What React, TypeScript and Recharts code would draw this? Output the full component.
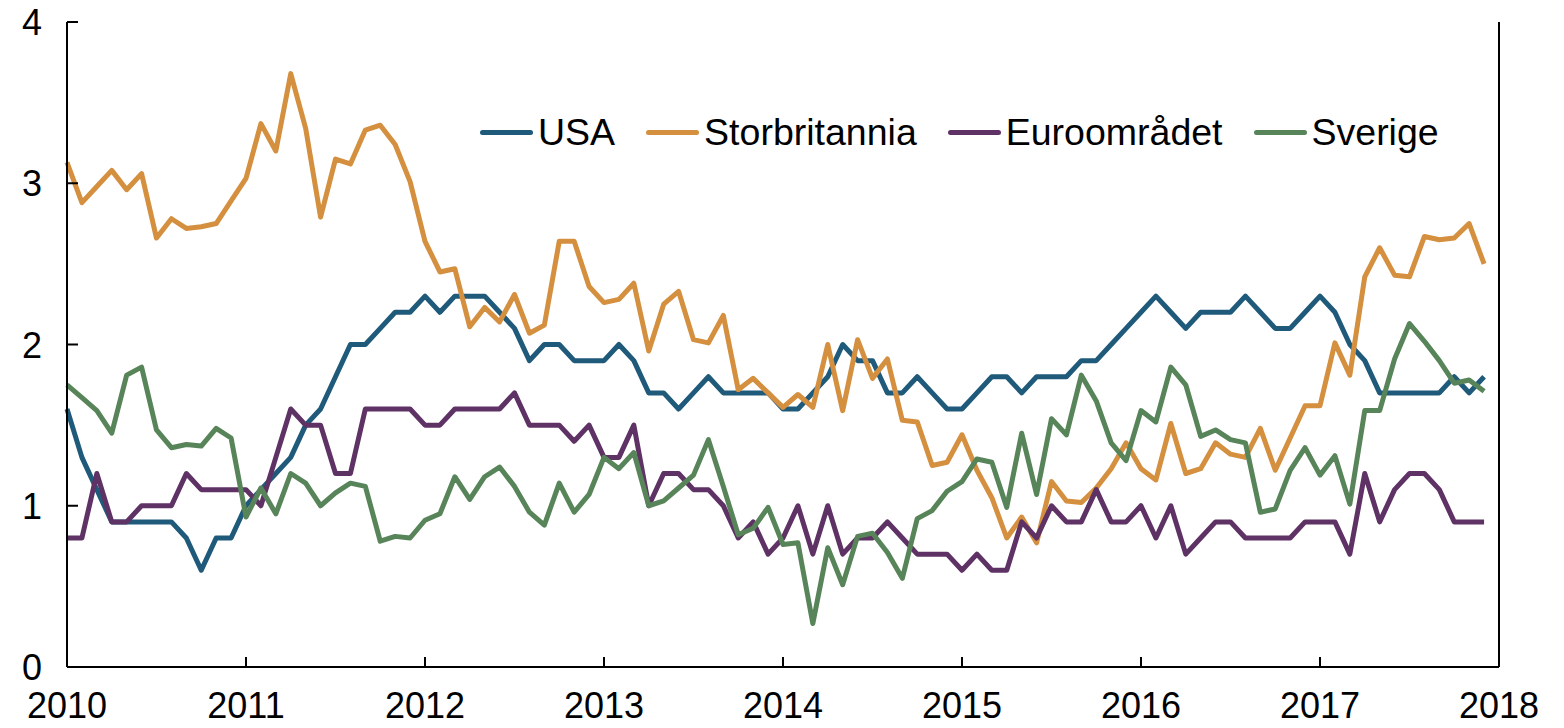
import { LineChart, Line, XAxis, YAxis, Legend } from "recharts";

const FONT = "'Liberation Sans', Arial, sans-serif";

const yearTicks = [2010, 2011, 2012, 2013, 2014, 2015, 2016, 2017, 2018];
const valueTicks = [0, 1, 2, 3, 4];

// monthly observations, Jan 2010 - Dec 2017
const usa = [
  1.6, 1.3, 1.1, 0.9, 0.9, 0.9, 0.9, 0.9, 0.8, 0.6, 0.8, 0.8,
  1.0, 1.1, 1.2, 1.3, 1.5, 1.6, 1.8, 2.0, 2.0, 2.1, 2.2, 2.2,
  2.3, 2.2, 2.3, 2.3, 2.3, 2.2, 2.1, 1.9, 2.0, 2.0, 1.9, 1.9,
  1.9, 2.0, 1.9, 1.7, 1.7, 1.6, 1.7, 1.8, 1.7, 1.7, 1.7, 1.7,
  1.6, 1.6, 1.7, 1.8, 2.0, 1.9, 1.9, 1.7, 1.7, 1.8, 1.7, 1.6,
  1.6, 1.7, 1.8, 1.8, 1.7, 1.8, 1.8, 1.8, 1.9, 1.9, 2.0, 2.1,
  2.2, 2.3, 2.2, 2.1, 2.2, 2.2, 2.2, 2.3, 2.2, 2.1, 2.1, 2.2,
  2.3, 2.2, 2.0, 1.9, 1.7, 1.7, 1.7, 1.7, 1.7, 1.8, 1.7, 1.8,
];

const storbritannia = [
  3.13, 2.88, 2.98, 3.08, 2.96, 3.06, 2.66, 2.78, 2.72, 2.73, 2.75, 2.89,
  3.03, 3.37, 3.2, 3.68, 3.34, 2.79, 3.15, 3.12, 3.33, 3.36, 3.24, 3.01,
  2.64, 2.45, 2.47, 2.11, 2.23, 2.14, 2.31, 2.07, 2.12, 2.64, 2.64, 2.36,
  2.26, 2.28, 2.38, 1.96, 2.25, 2.33, 2.03, 2.01, 2.18, 1.72, 1.79, 1.7,
  1.61, 1.69, 1.61, 2.0, 1.59, 2.03, 1.79, 1.91, 1.53, 1.52, 1.25, 1.27,
  1.44, 1.22, 1.05, 0.8, 0.93, 0.77, 1.15, 1.03, 1.02, 1.11, 1.23, 1.39,
  1.23, 1.16, 1.51, 1.2, 1.23, 1.39, 1.32, 1.3, 1.48, 1.22, 1.42, 1.62,
  1.62, 2.01, 1.81, 2.42, 2.6, 2.43, 2.42, 2.67, 2.65, 2.66, 2.75, 2.5,
];

const euroomradet = [
  0.8, 0.8, 1.2, 0.9, 0.9, 1.0, 1.0, 1.0, 1.2, 1.1, 1.1, 1.1,
  1.1, 1.0, 1.3, 1.6, 1.5, 1.5, 1.2, 1.2, 1.6, 1.6, 1.6, 1.6,
  1.5, 1.5, 1.6, 1.6, 1.6, 1.6, 1.7, 1.5, 1.5, 1.5, 1.4, 1.5,
  1.3, 1.3, 1.5, 1.0, 1.2, 1.2, 1.1, 1.1, 1.0, 0.8, 0.9, 0.7,
  0.8, 1.0, 0.7, 1.0, 0.7, 0.8, 0.8, 0.9, 0.8, 0.7, 0.7, 0.7,
  0.6, 0.7, 0.6, 0.6, 0.9, 0.8, 1.0, 0.9, 0.9, 1.1, 0.9, 0.9,
  1.0, 0.8, 1.0, 0.7, 0.8, 0.9, 0.9, 0.8, 0.8, 0.8, 0.8, 0.9,
  0.9, 0.9, 0.7, 1.2, 0.9, 1.1, 1.2, 1.2, 1.1, 0.9, 0.9, 0.9,
];

const sverige = [
  1.75, 1.67, 1.59, 1.45, 1.81, 1.86, 1.47, 1.36, 1.38, 1.37, 1.48, 1.42,
  0.93, 1.11, 0.95, 1.2, 1.14, 1.0, 1.08, 1.14, 1.12, 0.78, 0.81, 0.8,
  0.91, 0.95, 1.18, 1.04, 1.18, 1.24, 1.12, 0.96, 0.88, 1.14, 0.96, 1.07,
  1.3, 1.23, 1.33, 1.0, 1.03, 1.11, 1.19, 1.41, 1.12, 0.82, 0.86, 0.99,
  0.76, 0.77, 0.27, 0.74, 0.51, 0.81, 0.83, 0.71, 0.55, 0.92, 0.97, 1.09,
  1.15, 1.29, 1.27, 0.99, 1.45, 1.07, 1.54, 1.44, 1.81, 1.65, 1.39, 1.28,
  1.59, 1.52, 1.86, 1.75, 1.43, 1.47, 1.41, 1.39, 0.96, 0.98, 1.22, 1.36,
  1.19, 1.31, 1.01, 1.59, 1.59, 1.91, 2.13, 2.02, 1.9, 1.76, 1.78, 1.71,
];

const series = [
  { key: "usa", name: "USA", color: "#1f5a7b" },
  { key: "storbritannia", name: "Storbritannia", color: "#d48f3f" },
  { key: "euroomradet", name: "Euroområdet", color: "#5f3265" },
  { key: "sverige", name: "Sverige", color: "#58845a" },
];

const data = usa.map((v, i) => ({
  t: 2010 + i / 12,
  usa: v,
  storbritannia: storbritannia[i],
  euroomradet: euroomradet[i],
  sverige: sverige[i],
}));

const LeftTick = (props: any) => {
  const { x, y, payload } = props;
  return (
    <g>
      <line x1={x} x2={x + 11} y1={y} y2={y} stroke="#000" strokeWidth={2} />
      <text x={x - 25} y={y + 13} textAnchor="end" fontSize={36} fontFamily={FONT} fill="#000">
        {payload.value}
      </text>
    </g>
  );
};

const RightTick = (props: any) => {
  const { x, y, payload } = props;
  return (
    <g>
      <line x1={x - 11} x2={x} y1={y} y2={y} stroke="#000" strokeWidth={2} />
      <text x={x + 13} y={y + 13} textAnchor="start" fontSize={36} fontFamily={FONT} fill="#000">
        {payload.value}
      </text>
    </g>
  );
};

const BottomTick = (props: any) => {
  const { x, y, payload } = props;
  return (
    <g>
      <line x1={x} x2={x} y1={y} y2={y - 10} stroke="#000" strokeWidth={2} />
      <text x={x} y={y + 51} textAnchor="middle" fontSize={36} fontFamily={FONT} fill="#000">
        {payload.value}
      </text>
    </g>
  );
};

const renderLegend = () => (
  <div style={{ display: "flex", alignItems: "center", fontFamily: FONT, fontSize: 37.5, lineHeight: "40px", color: "#000" }}>
    {series.map((s) => (
      <div key={s.key} style={{ display: "flex", alignItems: "center", marginRight: 31 }}>
        <span style={{ display: "inline-block", width: 53, height: 5, borderRadius: 3, background: s.color, marginRight: 5 }} />
        <span>{s.name}</span>
      </div>
    ))}
  </div>
);

export default function App() {
  return (
    <div style={{ position: "absolute", left: 0, top: 0, width: 1564, height: 728, background: "#fff" }}>
      <LineChart width={1564} height={728} data={data} margin={{ top: 22, right: 0, bottom: 0, left: 0 }}>
        <XAxis
          dataKey="t"
          type="number"
          domain={[2010, 2018]}
          ticks={yearTicks}
          interval={0}
          height={61}
          tickSize={0}
          tickMargin={0}
          tickLine={false}
          axisLine={{ stroke: "#000", strokeWidth: 2 }}
          tick={<BottomTick />}
        />
        <YAxis
          yAxisId="left"
          domain={[0, 4]}
          ticks={valueTicks}
          interval={0}
          width={67}
          tickSize={0}
          tickMargin={0}
          tickLine={false}
          axisLine={{ stroke: "#000", strokeWidth: 2 }}
          tick={<LeftTick />}
        />
        <YAxis
          yAxisId="right"
          orientation="right"
          domain={[0, 4]}
          ticks={valueTicks}
          interval={0}
          width={65}
          tickSize={0}
          tickMargin={0}
          tickLine={false}
          axisLine={{ stroke: "#000", strokeWidth: 2 }}
          tick={<RightTick />}
        />
        <Legend
          layout="horizontal"
          verticalAlign="middle"
          align="center"
          content={renderLegend}
          wrapperStyle={{ top: 112, left: 480, width: "auto" }}
        />
        {series.map((s) => (
          <Line
            key={s.key}
            yAxisId="left"
            type="linear"
            dataKey={s.key}
            name={s.name}
            stroke={s.color}
            strokeWidth={5}
            strokeLinejoin="round"
            dot={false}
            activeDot={false}
            isAnimationActive={false}
          />
        ))}
      </LineChart>
    </div>
  );
}
